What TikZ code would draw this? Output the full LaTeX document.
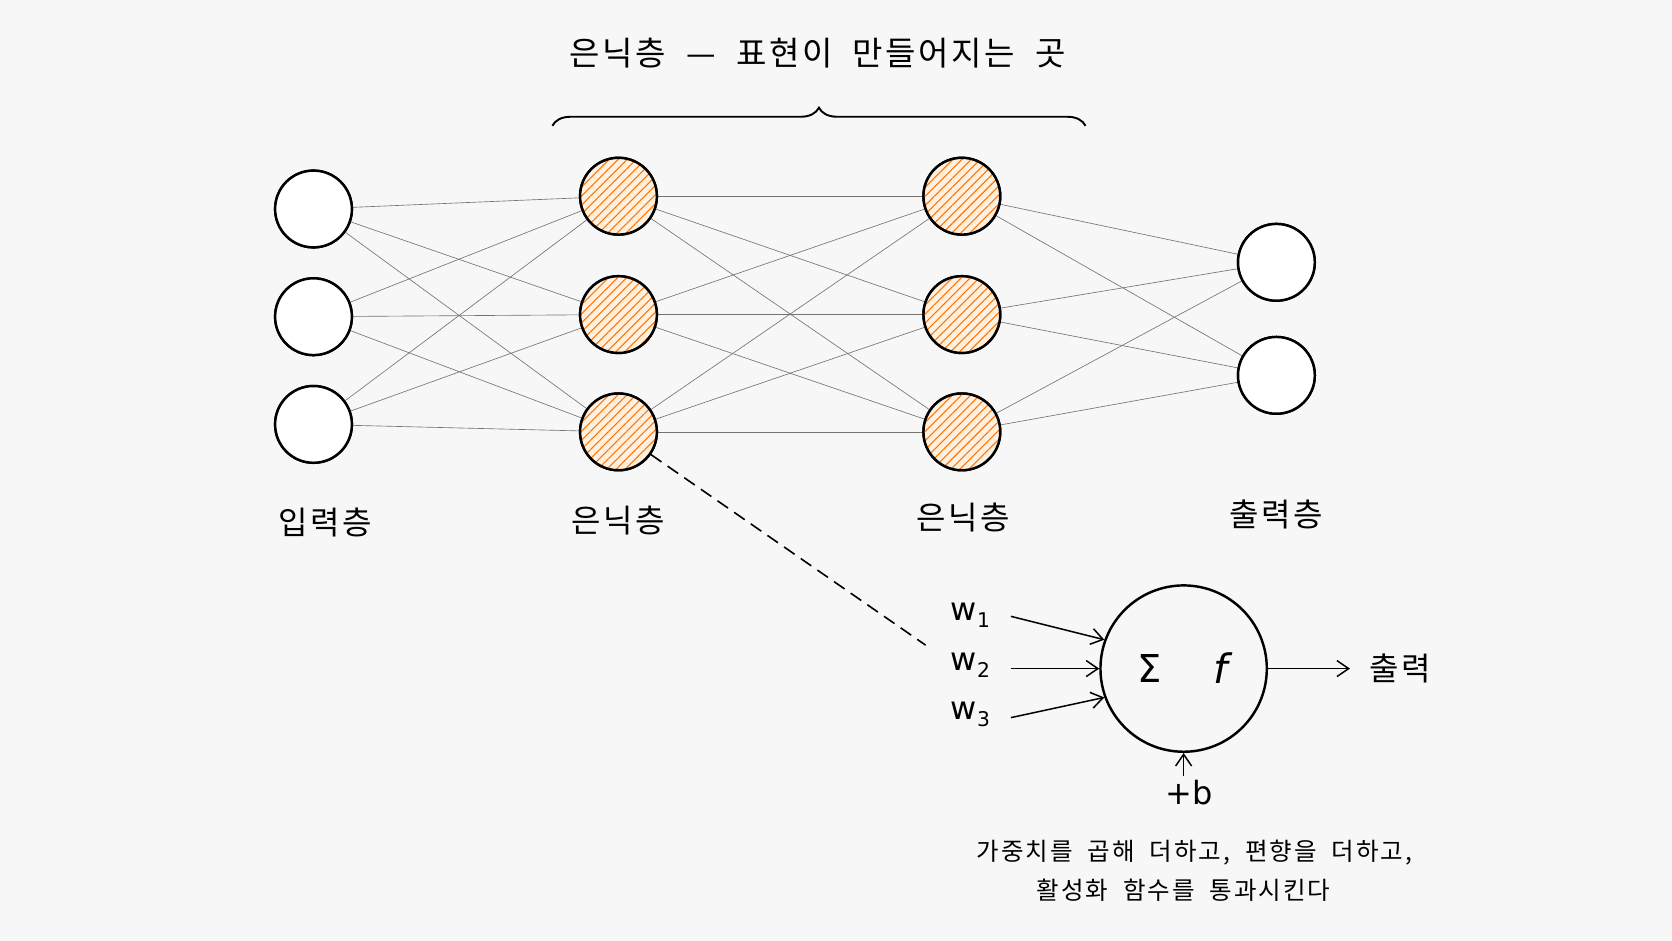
\documentclass[tikz,border=0pt]{standalone}
\usepackage{fontspec}
\setmainfont{Noto Sans CJK KR}
\newfontfamily\symf{DejaVu Sans}
\newfontfamily\widef[LetterSpace=8,WordSpace=2]{Noto Sans CJK KR}
\usetikzlibrary{patterns.meta,decorations.pathreplacing,arrows.meta}
\begin{document}
\begin{tikzpicture}[x=1pt,y=-1pt,
  neu/.style={circle,draw=black,line width=2.3pt,minimum size=72pt,inner sep=0pt,fill=white},
  hid/.style={neu,fill=none,pattern={Lines[angle=45,distance=6pt,line width=1pt]},pattern color=orange!90!red},
  edge/.style={draw=black!55,line width=0.6pt},
  lab/.style={font=\widef\fontsize{30}{30}\selectfont},
  wl/.style={font=\symf\fontsize{30}{30}\selectfont},
  arr/.style={-{Straight Barb[length=11pt,width=15pt]},line width=1.4pt}]
\fill[white!97!black] (0,0) rectangle (1568,882);
\useasboundingbox (0,0) rectangle (1568,882);
\foreach \i/\y in {1/196,2/297,3/398} \node[neu] (i\i) at (294,\y) {};
\foreach \i/\y in {1/184,2/295,3/405} {
  \node[neu] (a\i) at (580,\y) {};
  \node[neu] (b\i) at (902,\y) {};}
\foreach \i/\y in {1/246,2/352} \node[neu] (o\i) at (1197,\y) {};
\foreach \s in {1,2,3} \foreach \t in {1,2,3} {
  \draw[edge] (i\s) -- (a\t);
  \draw[edge] (a\s) -- (b\t);}
\foreach \s in {1,2,3} \foreach \t in {1,2} \draw[edge] (b\s) -- (o\t);
\foreach \y in {196,297,398} \node[neu] at (294,\y) {};
\foreach \y in {184,295,405} {
  \fill[orange!12] (580,\y) circle (36pt);
  \node[hid] at (580,\y) {};
  \fill[orange!12] (902,\y) circle (36pt);
  \node[hid] at (902,\y) {};}
\foreach \y in {246,352} \node[neu] at (1197,\y) {};
\node[lab] (l1) at (305,490) {입력층};
\node[lab] (l2) at (580,488) {은닉층};
\node[lab] (l3) at (903,485) {은닉층};
\node[lab] (l4) at (1197,482) {출력층};
\node[font=\widef\fontsize{31}{31}\selectfont] (title) at (767,50) {은닉층 — 표현이 만들어지는 곳};
\coordinate (bl) at (518,118);
\coordinate (br) at (1018,118);
\draw[line width=1.8pt,decorate,decoration={brace,amplitude=17pt}] (bl) -- (br);
\node[circle,draw,line width=2.3pt,minimum size=156pt,inner sep=0pt] (n) at (1110,627) {};
\node[font=\symf\fontsize{36}{36}\selectfont] (sig) at (1078,627) {Σ};
\node[font=\symf\itshape\fontsize{38}{38}\selectfont] (f) at (1145,627) {f};
\node[wl] (w1) at (910,577) {w\raisebox{-6pt}{\fontsize{19}{19}\selectfont 1}};
\node[wl] (w2) at (910,624) {w\raisebox{-6pt}{\fontsize{19}{19}\selectfont 2}};
\node[wl] (w3) at (910,670) {w\raisebox{-6pt}{\fontsize{19}{19}\selectfont 3}};
\coordinate (w1e) at (948,578);
\coordinate (w2e) at (948,627);
\coordinate (w3e) at (948,673);
\draw[arr] (w1e) -- (n.160);
\draw[arr] (w2e) -- (n.west);
\draw[arr] (w3e) -- (n.200);
\node[lab] (out) at (1313,627) {출력};
\coordinate (oe) at (1266,627);
\draw[arr] (n.east) -- (oe);
\node[wl] (b) at (1115,743) {+b};
\draw[arr] (b.north -| n.south) -- (n.south);
\coordinate (dend) at (868,605);
\draw[dash pattern=on 12pt off 7pt,line width=1.5pt] (a3.-35) -- (dend);
\node[font=\widef\fontsize{23}{23}\selectfont] (t1) at (1120,800) {가중치를 곱해 더하고, 편향을 더하고,};
\node[font=\widef\fontsize{23}{23}\selectfont] (t2) at (1110,835) {활성화 함수를 통과시킨다};
\end{tikzpicture}
\end{document}
